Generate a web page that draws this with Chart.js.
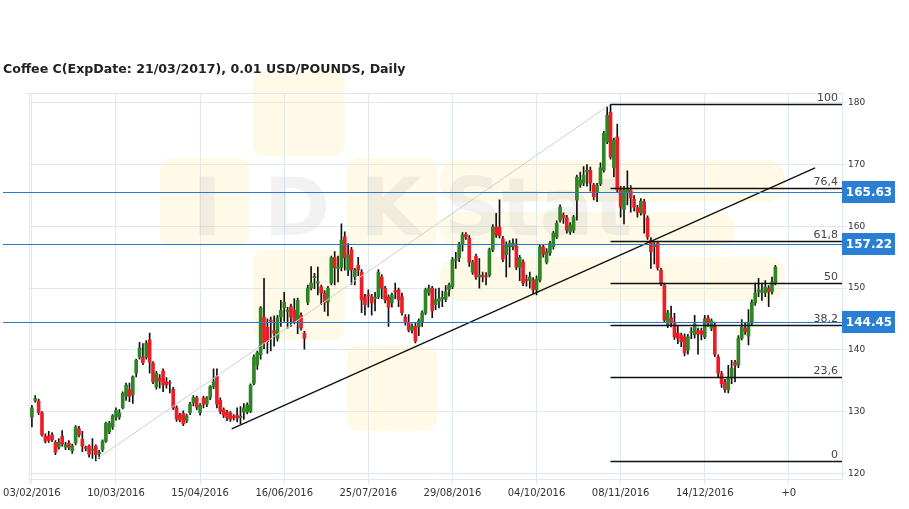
<!DOCTYPE html>
<html lang="en">
<head>
<meta charset="UTF-8">
<title>Coffee C | Daily</title>
<script src="https://cdn.jsdelivr.net/npm/chart.js"></script>
<style>
  html, body { margin: 0; padding: 0; background: #fff; }
  #wrap { width: 909px; height: 509px; }
</style>
</head>
<body>
<div id="wrap"><canvas id="grafico" width="909" height="509"></canvas></div>

<script>
// dados (um candle por pregao)
const opens = [129.1,131.8,131.7,129.8,126.0,126.0,126.2,125.0,124.2,126.0,124.2,124.9,123.6,124.9,127.2,125.5,124.2,124.4,123.7,124.4,
  123.2,123.8,125.2,126.7,127.5,129.1,129.1,130.6,132.5,133.5,132.7,136.2,138.8,138.8,138.8,141.6,137.9,134.0,135.4,136.6,
  134.8,134.7,133.6,130.6,129.4,129.7,128.5,129.8,131.4,132.2,129.8,132.2,131.2,132.3,134.0,135.7,131.8,130.3,129.9,129.8,
  129.2,129.4,129.0,129.9,129.9,130.0,134.6,137.5,139.2,145.3,143.7,144.8,143.1,141.9,145.3,146.8,146.2,147.0,146.4,144.8,
  145.6,142.7,147.7,150.0,151.7,150.8,150.2,149.2,147.7,150.8,155.0,153.2,153.4,158.3,152.9,156.2,151.8,153.7,152.6,148.6,
  148.9,148.6,148.3,148.6,151.8,150.0,148.6,147.6,149.6,149.7,148.6,145.3,144.4,143.2,143.8,143.7,144.5,146.0,149.2,150.0,
  147.3,147.9,148.2,148.2,149.7,150.2,154.5,154.9,157.0,158.7,158.1,152.6,155.2,151.8,152.1,152.0,152.1,156.2,159.9,159.9,
  158.0,155.4,156.7,156.7,156.8,153.4,154.2,151.4,151.3,151.3,149.7,151.3,156.7,154.2,155.7,156.7,158.3,161.0,161.8,161.4,
  159.1,159.4,164.3,166.7,167.0,168.8,169.1,166.7,165.6,166.9,169.1,173.7,178.5,169.5,174.5,166.2,162.7,165.6,165.9,164.4,
  163.0,162.2,164.0,161.4,157.8,156.7,157.3,152.9,150.5,144.0,145.2,144.3,142.7,142.4,142.1,140.0,142.8,142.4,143.1,143.1,
  142.1,145.2,143.5,144.0,138.8,136.1,134.8,133.5,135.6,138.0,137.5,141.9,143.5,142.2,144.3,147.6,149.4,149.3,149.2,150.0,
  149.4,150.8];
const highs = [131.0,132.6,132.0,130.0,126.4,126.8,126.6,125.3,125.6,126.9,125.0,125.3,124.7,127.7,127.6,126.8,124.4,124.6,125.6,124.6,
  123.7,125.4,128.3,128.4,129.5,130.6,130.3,133.2,134.6,134.6,135.8,138.5,141.2,141.0,141.5,142.7,138.1,136.5,136.0,136.9,
  135.5,135.0,133.9,130.9,129.7,130.1,129.6,131.5,132.6,132.5,131.3,132.5,132.4,134.2,136.9,136.9,132.2,130.6,130.2,130.0,
  129.5,130.6,130.8,131.3,131.4,134.5,139.2,139.8,147.0,151.6,145.0,145.3,145.5,145.6,148.0,149.3,146.9,147.4,148.3,148.4,
  146.0,143.0,150.5,153.5,152.4,153.4,150.5,149.6,150.3,155.2,155.9,155.2,160.4,159.1,157.2,156.6,153.2,155.0,153.0,149.0,
  149.7,149.0,149.3,153.0,152.2,150.3,148.9,149.2,150.8,150.0,149.2,145.7,145.7,144.2,144.3,145.0,146.3,150.0,150.5,150.3,
  149.9,150.0,149.5,150.4,150.8,155.0,155.8,157.4,159.0,159.0,158.5,154.5,155.5,154.8,152.6,152.5,156.5,160.3,162.1,164.3,
  158.4,157.5,157.7,158.0,158.0,155.3,154.6,152.1,152.6,151.7,152.0,157.1,157.0,156.4,157.6,159.2,160.9,163.5,162.2,161.8,
  160.6,161.8,168.3,168.8,169.7,170.0,169.6,167.0,167.0,170.3,175.4,179.4,179.8,174.3,176.6,166.5,166.5,169.0,166.6,165.0,
  163.4,164.5,164.4,161.7,158.2,157.6,157.6,153.2,150.8,146.4,147.1,145.9,143.9,142.7,142.6,142.5,143.6,145.6,143.5,143.5,
  145.6,145.6,145.0,144.5,139.2,136.5,135.2,137.5,138.3,138.3,142.3,144.9,144.3,146.5,148.1,150.8,151.6,150.8,151.2,150.4,
  151.8,153.7];
const lows = [127.5,131.5,129.5,126.0,124.9,125.0,125.1,123.0,123.9,124.4,123.8,123.8,123.2,124.6,125.9,123.5,123.6,122.6,122.4,122.0,
  122.4,123.5,125.0,126.4,127.1,128.6,128.7,130.4,131.8,131.6,131.3,135.6,138.5,137.6,138.5,136.2,134.5,133.6,133.8,133.2,
  133.8,133.0,130.3,128.4,128.3,127.7,128.2,129.5,130.9,130.3,129.4,130.6,130.8,131.9,133.7,130.6,129.6,129.0,128.5,128.4,
  128.6,128.3,128.0,128.7,129.6,129.8,134.3,136.8,138.5,140.2,139.4,139.8,140.6,141.4,143.8,144.6,143.5,143.8,144.2,142.6,
  143.2,140.1,147.3,149.7,149.9,148.9,147.3,146.2,145.5,150.5,150.5,151.0,152.8,152.9,152.0,150.6,150.5,152.0,146.0,145.6,
  146.9,145.6,146.3,148.3,148.3,147.6,143.8,146.9,148.3,147.0,145.6,144.0,142.9,142.7,141.1,142.3,143.8,145.7,148.8,145.2,
  146.5,146.8,147.0,147.8,148.7,149.9,153.2,154.3,156.0,157.9,153.5,152.2,151.4,150.0,151.0,150.5,151.8,155.9,158.2,158.1,
  154.3,151.8,153.4,156.2,153.0,151.2,150.4,150.3,150.0,149.1,148.9,151.0,155.0,153.9,155.3,156.3,158.0,160.7,160.5,158.9,
  158.7,159.0,161.0,166.3,166.6,166.5,165.7,164.3,164.0,166.6,168.8,173.4,170.9,168.0,165.5,161.5,160.4,163.5,162.3,162.5,
  161.5,161.8,158.9,157.9,153.2,153.9,152.9,150.4,144.4,143.6,143.7,141.7,141.0,140.5,139.0,139.3,141.8,141.9,139.3,141.6,
  141.8,143.8,143.1,138.9,135.6,133.9,133.1,133.0,134.5,134.8,137.1,141.6,142.5,140.8,144.0,147.2,148.6,148.0,148.6,147.0,
  149.0,150.5];
const closes = [130.6,132.1,129.8,126.2,125.2,125.3,125.4,123.4,125.0,124.7,124.6,124.2,124.4,127.5,126.2,124.4,124.0,123.1,123.9,123.0,
  123.4,125.2,128.1,128.1,129.3,130.2,129.8,133.0,134.3,132.5,135.6,138.3,140.3,137.9,141.1,138.0,134.8,136.2,134.9,134.3,
  134.3,134.6,130.6,128.8,128.6,128.0,129.3,131.2,132.3,130.7,131.0,131.2,132.2,134.0,134.8,131.2,130.0,129.4,128.9,128.7,
  129.0,128.9,129.2,130.6,131.1,134.3,138.8,139.5,146.8,141.1,141.3,144.6,142.7,145.2,146.4,147.7,146.4,145.3,144.5,148.0,
  143.5,141.9,150.0,150.8,151.9,151.0,149.2,147.6,150.0,154.9,153.3,153.4,157.8,154.9,155.4,153.0,152.9,152.9,148.1,147.3,
  148.7,147.6,148.5,152.6,150.0,148.1,146.9,148.9,149.4,148.1,146.0,144.5,143.2,143.8,141.4,144.7,146.0,149.7,150.0,146.3,
  148.1,148.3,148.5,149.4,150.5,154.6,154.7,157.0,158.6,158.3,154.2,154.2,151.8,152.1,151.8,151.8,156.2,159.9,158.6,158.5,
  154.7,157.1,157.3,157.2,153.4,155.0,150.8,151.2,151.8,149.7,151.5,156.7,155.5,155.9,157.3,158.9,160.5,163.1,161.4,159.4,
  160.2,161.5,168.0,167.5,168.3,169.1,167.0,164.8,166.7,169.5,175.1,178.0,171.2,174.0,165.9,163.1,165.9,166.2,164.6,163.1,
  162.3,164.1,162.0,158.3,155.9,157.0,153.3,150.8,144.8,146.0,144.5,142.1,141.9,141.3,139.5,142.1,143.0,144.2,142.6,142.5,
  145.0,144.3,144.7,139.3,136.2,134.5,133.6,135.4,137.0,137.5,141.9,143.7,142.9,144.5,147.7,149.2,149.7,149.6,150.2,149.4,
  151.0,153.4];

// eixo x: um rotulo a cada 25 candles
const xTickIdx = [0, 25, 50, 75, 100, 125, 150, 175, 200, 225];
const xTickLabels = ['03/02/2016', '10/03/2016', '15/04/2016', '16/06/2016', '25/07/2016',
  '29/08/2016', '04/10/2016', '08/11/2016', '14/12/2016', '+0'];
const yTicks = [120, 130, 140, 150, 160, 170, 180];

// niveis de Fibonacci (preco)
const fibLabels = ['0', '23,6', '38,2', '50', '61,8', '76,4', '100'];
const fibPrices = [122.0, 135.6, 144.1, 150.9, 157.7, 166.2, 179.8];
const fibStart = 172;

// linhas de preco marcadas no eixo
const priceLevels = [165.63, 157.22, 144.45];

// linhas de tendencia [indice, preco]
const grayTrend = [[19, 122.2], [172, 179.8]];
const blackTrend = [[59.4, 127.2], [232.8, 169.5]];

const gridColor = '#dde8f4';
const upColor = '#2f8424';
const downColor = '#ee1c24';
const fonte = 'DejaVu Sans, Verdana, sans-serif';

const corpos = opens.map((o, i) => ({ x: i, y: [o, closes[i]] }));
const pavios = lows.map((l, i) => ({ x: i, y: [l, highs[i]] }));
const cores = opens.map((o, i) => closes[i] >= o ? upColor : downColor);

function roundRect(ctx, x, y, w, h, r) {
  ctx.beginPath();
  ctx.moveTo(x + r, y);
  ctx.arcTo(x + w, y, x + w, y + h, r);
  ctx.arcTo(x + w, y + h, x, y + h, r);
  ctx.arcTo(x, y + h, x, y, r);
  ctx.arcTo(x, y, x + w, y, r);
  ctx.closePath();
}

// marca d'agua, bordas, fibo, linhas e titulo
const desenho = {
  id: 'desenho',
  beforeDatasetsDraw(chart) {
    const ctx = chart.ctx, a = chart.chartArea;
    ctx.save();
    // marca d'agua
    ctx.fillStyle = 'rgba(250, 236, 170, 0.28)';
    [[253, 72, 92, 84], [160, 158, 90, 89], [347, 158, 90, 89], [253, 250, 92, 90], [347, 345, 90, 86]]
      .forEach(q => { roundRect(ctx, q[0], q[1], q[2], q[3], 12); ctx.fill(); });
    [[440, 160, 345, 42], [440, 212, 295, 36], [440, 257, 345, 44]]
      .forEach(q => { roundRect(ctx, q[0], q[1], q[2], q[3], 18); ctx.fill(); });
    ctx.fillStyle = 'rgba(175, 175, 175, 0.17)';
    ctx.font = 'bold 80px ' + fonte;
    ctx.textBaseline = 'alphabetic';
    ctx.textAlign = 'center';
    ctx.fillText('I', 207, 235);
    ctx.fillText('D', 297, 235);
    ctx.fillText('K', 391, 235);
    ctx.textAlign = 'left';
    ctx.fillText('Stat', 444, 235);

    // bordas do grafico
    ctx.strokeStyle = gridColor;
    ctx.lineWidth = 1;
    ctx.beginPath();
    ctx.moveTo(25, a.top + 0.5); ctx.lineTo(a.right, a.top + 0.5);
    ctx.moveTo(a.left - 0.5, a.top); ctx.lineTo(a.left - 0.5, a.bottom + 5);
    ctx.moveTo(a.left, a.bottom + 0.5); ctx.lineTo(a.right, a.bottom + 0.5);
    ctx.stroke();
    ctx.restore();
  },
  afterDatasetsDraw(chart) {
    const ctx = chart.ctx, a = chart.chartArea;
    const xs = chart.scales.x, ys = chart.scales.y;
    ctx.save();

    // tendencias
    const linha = (pts, cor, w) => {
      ctx.strokeStyle = cor; ctx.lineWidth = w;
      ctx.beginPath();
      ctx.moveTo(xs.getPixelForValue(pts[0][0]), ys.getPixelForValue(pts[0][1]));
      ctx.lineTo(xs.getPixelForValue(pts[1][0]), ys.getPixelForValue(pts[1][1]));
      ctx.stroke();
    };
    linha(grayTrend, '#cfcfcf', 1);
    linha(blackTrend, '#111', 1.4);

    // linhas de preco (azul)
    ctx.strokeStyle = '#2a78d0';
    ctx.lineWidth = 1.2;
    priceLevels.forEach(p => {
      const y = Math.round(ys.getPixelForValue(p)) + 0.5;
      ctx.beginPath(); ctx.moveTo(3, y); ctx.lineTo(a.right, y); ctx.stroke();
    });

    // fibonacci
    const x0 = xs.getPixelForValue(fibStart);
    ctx.strokeStyle = '#111';
    ctx.lineWidth = 1.3;
    ctx.fillStyle = '#444';
    ctx.font = '11px ' + fonte;
    ctx.textAlign = 'right';
    ctx.textBaseline = 'alphabetic';
    fibPrices.forEach((p, i) => {
      const y = Math.round(ys.getPixelForValue(p)) + 0.5;
      ctx.beginPath(); ctx.moveTo(x0, y); ctx.lineTo(a.right, y); ctx.stroke();
      ctx.fillText(fibLabels[i], a.right - 4, y - 4);
    });
    ctx.restore();
  },
  afterDraw(chart) {
    const ctx = chart.ctx, a = chart.chartArea, ys = chart.scales.y;
    ctx.save();
    // caixas com o preco
    ctx.font = 'bold 12px ' + fonte;
    ctx.textAlign = 'center';
    ctx.textBaseline = 'middle';
    priceLevels.forEach(p => {
      const y = Math.round(ys.getPixelForValue(p));
      ctx.fillStyle = '#2a7fd4';
      ctx.fillRect(a.right, y - 11, 53, 22);
      ctx.fillStyle = '#fff';
      ctx.fillText(p.toFixed(2), a.right + 27, y + 1);
    });
    // titulo
    ctx.fillStyle = '#222';
    ctx.font = 'bold 12.6px ' + fonte;
    ctx.textAlign = 'left';
    ctx.textBaseline = 'alphabetic';
    ctx.fillText('Coffee C(ExpDate: 21/03/2017), 0.01 USD/POUNDS, Daily', 3, 73);
    ctx.restore();
  }
};

const config = {
  type: 'bar',
  data: {
    datasets: [{
      label: 'corpo',
      data: corpos,
      backgroundColor: cores,
      barThickness: 3,
      grouped: false,
      borderWidth: 0,
      order: 0
    }, {
      label: 'pavio',
      data: pavios,
      backgroundColor: '#111',
      barThickness: 1,
      grouped: false,
      borderWidth: 0,
      order: 1
    }]
  },
  options: {
    responsive: false,
    animation: false,
    devicePixelRatio: 1,
    layout: { padding: { top: 93, left: 29, right: 0, bottom: 0 } },
    plugins: { legend: { display: false }, tooltip: { enabled: false }, title: { display: false } },
    scales: {
      x: {
        type: 'linear',
        min: -0.6,
        max: 240.8,
        offset: false,
        afterBuildTicks: s => { s.ticks = xTickIdx.map(v => ({ value: v })); },
        afterFit: s => { s.height = 30; },
        grid: { color: gridColor, tickLength: 5, offset: false },
        border: { display: false },
        ticks: {
          autoSkip: false, maxRotation: 0, padding: 3, color: '#333',
          font: { family: fonte, size: 10 },
          callback: (v, i) => xTickLabels[i]
        }
      },
      y: {
        position: 'right',
        min: 119.06,
        max: 181.62,
        beginAtZero: false,
        afterBuildTicks: s => { s.ticks = yTicks.map(v => ({ value: v })); },
        afterFit: s => { s.width = 67; },
        grid: { color: gridColor, tickLength: 4 },
        border: { display: true, color: gridColor },
        ticks: { padding: 2, color: '#333', font: { family: fonte, size: 9 } }
      }
    }
  },
  plugins: [desenho]
};

new Chart(document.getElementById('grafico'), config);
</script>
</body>
</html>
